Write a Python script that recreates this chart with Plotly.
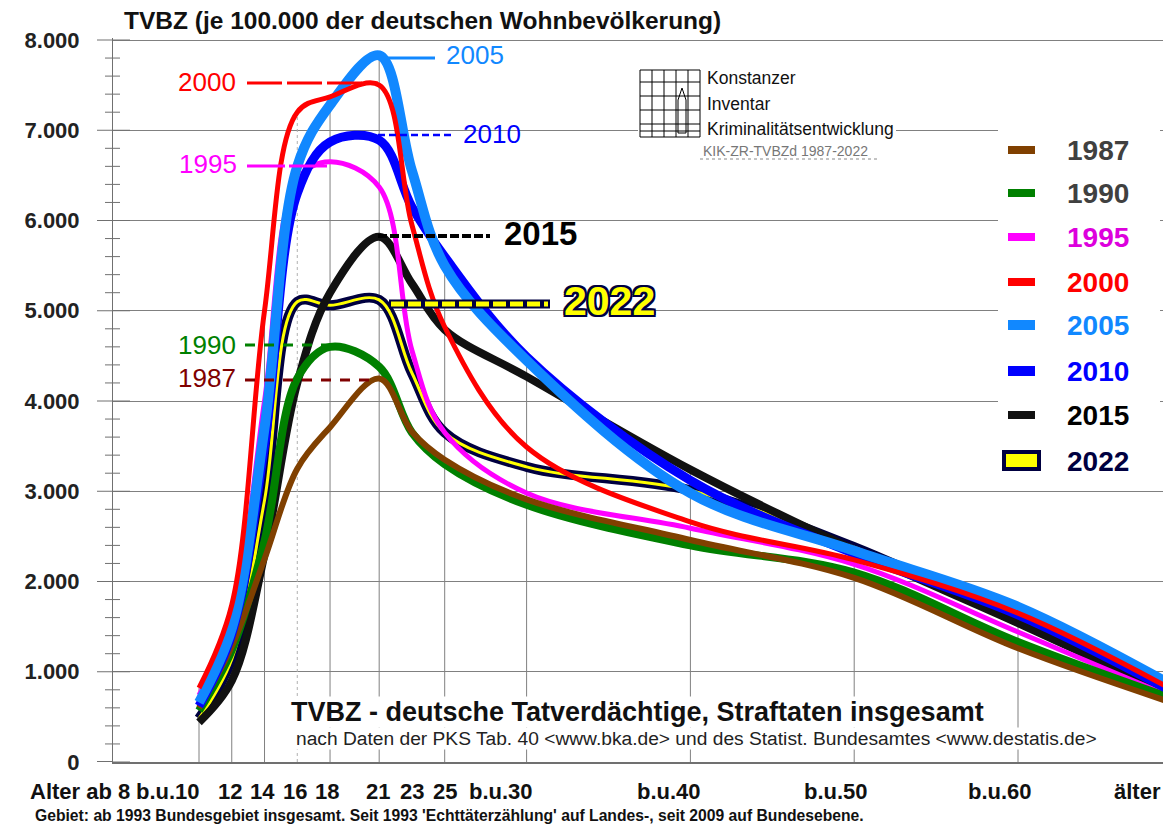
import plotly.graph_objects as go

# ---------------- data ----------------
ages = [10, 12, 14, 16, 18, 21, 23, 25, 30, 40, 50, 60, 70]
age_labels = ["b.u.10", "12", "14", "16", "18", "21", "23", "25",
              "b.u.30", "b.u.40", "b.u.50", "b.u.60", "älter"]
years = ["1987", "1990", "1995", "2000", "2005", "2010", "2015", "2022"]

tvbz_1987 = [600, 1280, 2250, 3250, 3710, 4250, 3660, 3350, 2910, 2460, 2040, 1260, 620]
tvbz_1990 = [570, 1240, 2450, 4250, 4600, 4380, 3650, 3300, 2850, 2400, 2100, 1330, 665]
tvbz_1995 = [740, 1570, 4000, 6450, 6650, 6370, 4560, 3650, 2980, 2590, 2190, 1440, 675]
tvbz_2000 = [820, 1740, 5000, 7200, 7370, 7500, 5950, 4820, 3490, 2660, 2240, 1650, 745]
tvbz_2005 = [660, 1480, 3700, 6600, 7280, 7830, 6550, 5500, 4450, 2980, 2340, 1720, 790]
tvbz_2010 = [620, 1420, 3500, 6300, 6870, 6890, 6150, 5600, 4490, 3120, 2310, 1630, 725]
tvbz_2015 = [440, 900, 2300, 4200, 5200, 5820, 5300, 4790, 4270, 3240, 2350, 1540, 705]
tvbz_2022 = [480, 1140, 2900, 5100, 5060, 5120, 4310, 3650, 3270, 3010, 2380, 1560, 705]

series = {"1987": tvbz_1987, "1990": tvbz_1990, "1995": tvbz_1995, "2000": tvbz_2000,
          "2005": tvbz_2005, "2010": tvbz_2010, "2015": tvbz_2015, "2022": tvbz_2022}

# ---------------- styling ----------------
FONT = "Liberation Sans, Arial, sans-serif"
line_color = {"1987": "#804000", "1990": "#008000", "1995": "#ff00ff", "2000": "#ff0000",
              "2005": "#1188ff", "2010": "#0000ff", "2015": "#111111", "2022": "#000040"}
line_width = {"1987": 6, "1990": 8, "1995": 5, "2000": 5, "2005": 10, "2010": 9, "2015": 8, "2022": 10}
legend_text_color = {"1987": "#404040", "1990": "#404040", "1995": "#dd00dd", "2000": "#ff0000",
                     "2005": "#1188ff", "2010": "#0000ff", "2015": "#000000", "2022": "#000040"}
draw_order = ["2022", "2015", "1995", "1990", "1987", "2010", "2005", "2000"]
YELLOW = "#ffff00"
GRID = "#808080"

# ---------------- geometry helpers (reference pixel coordinates) ----------------
OFF = 8                      # page body margin of the html page
W, H = 1171 - OFF, 826 - OFF
ML, MR, MT, MB = 113 - OFF, 0, 38 - OFF, 64
PW, PH = W - ML - MR, H - MT - MB
PX_PER_YEAR = 16.38
AGE10_PX = 199
Y8000_PX = 40
RIGHT_PX = 1171
x_range = [10 + (113 - AGE10_PX) / PX_PER_YEAR, 10 + (RIGHT_PX - AGE10_PX) / PX_PER_YEAR]
y_range = [0, 8000 * PH / (762 - Y8000_PX)]


def pxx(px):
    return (px - 113) / PW


def pxy(py):
    return (762 - py) / PH


def age_px(a):
    return AGE10_PX + (a - 10) * PX_PER_YEAR


fig = go.Figure()

# ---------------- curves ----------------
for yr in draw_order:
    fig.add_trace(go.Scatter(
        x=ages, y=series[yr], mode="lines", name=yr, showlegend=False,
        line=dict(color=line_color[yr], width=line_width[yr], shape="spline", smoothing=1.0),
        hoverinfo="x+y+name"))
    if yr == "2022":
        fig.add_trace(go.Scatter(
            x=ages, y=series[yr], mode="lines", name="2022", showlegend=False,
            line=dict(color=YELLOW, width=3, shape="spline", smoothing=1.0),
            hoverinfo="skip"))

shapes = []
annotations = []


def text(x, y, s, size, color="#000000", bold=False, xanchor="center", yanchor="middle", **kw):
    f = dict(family=FONT, size=size, color=color, weight="bold" if bold else "normal")
    if "shadow" in kw:
        f["shadow"] = kw.pop("shadow")
    annotations.append(dict(x=pxx(x), y=pxy(y), xref="paper", yref="paper", text=s,
                            showarrow=False, xanchor=xanchor, yanchor=yanchor, font=f, **kw))


def hline(x0, x1, y, color, width=1, dash=None, layer="above"):
    ln = dict(color=color, width=width)
    if dash:
        ln["dash"] = dash
    shapes.append(dict(type="line", xref="paper", yref="paper", x0=pxx(x0), x1=pxx(x1),
                       y0=pxy(y), y1=pxy(y), line=ln, layer=layer))


def vline(x, y0, y1, color, width=1, dash=None, layer="above"):
    ln = dict(color=color, width=width)
    if dash:
        ln["dash"] = dash
    shapes.append(dict(type="line", xref="paper", yref="paper", x0=pxx(x), x1=pxx(x),
                       y0=pxy(y0), y1=pxy(y1), line=ln, layer=layer))


def rect(x0, y0, x1, y1, fill, line_col=None, lw=0, layer="above"):
    shapes.append(dict(type="rect", xref="paper", yref="paper", x0=pxx(x0), x1=pxx(x1),
                       y0=pxy(y1), y1=pxy(y0), fillcolor=fill,
                       line=dict(color=line_col or fill, width=lw), layer=layer))


# ---------------- y-axis crossing ticks ----------------
for v in range(0, 8001, 200):
    major = v % 1000 == 0
    shapes.append(dict(type="line", xref="paper", yref="y",
                       x0=pxx(97 if major else 105), x1=pxx(130 if major else 120),
                       y0=v, y1=v, line=dict(color="#707070", width=1), layer="above"))
# x-axis line extension to the left
shapes.append(dict(type="line", xref="paper", yref="y", x0=pxx(97), x1=0, y0=0, y1=0,
                   line=dict(color="#707070", width=2), layer="above"))

# ---------------- drop lines at the age groups ----------------
for i, a in enumerate(ages):
    if age_labels[i] in ("23", "älter"):
        continue
    top = max(series[yr][i] for yr in years)
    bottom = 0 if a <= 16 else -150
    shapes.append(dict(type="line", xref="x", yref="y", x0=a, x1=a, y0=bottom, y1=top,
                       line=dict(color="#b0b0b0" if a == 16 else GRID, width=1,
                                 dash="dot" if a == 16 else "solid"),
                       layer="between"))

# ---------------- x labels ----------------
label_shift = {"b.u.10": -31, "12": -2, "14": -2, "16": -2, "18": -3, "21": -1, "23": 0, "25": 0,
               "b.u.30": -26, "b.u.40": -21, "b.u.50": -18, "b.u.60": -18, "älter": -44}
for a, lab in zip(ages, age_labels):
    text(age_px(a) + label_shift[lab], 791, lab, 22, "#111111", bold=True)
text(80, 791, "Alter ab 8", 22, "#111111", bold=True)

# ---------------- titles / notes ----------------
text(122, 21, "TVBZ (je 100.000 der deutschen Wohnbevölkerung)", 24.5, "#111111", bold=True,
     xanchor="left")
text(33, 815, "Gebiet: ab 1993 Bundesgebiet insgesamt. Seit 1993 'Echttäterzählung' auf Landes-, "
              "seit 2009 auf Bundesebene.", 15.7, "#111111", bold=True, xanchor="left")
text(290, 712, "TVBZ - deutsche Tatverdächtige, Straftaten insgesamt", 27, "#111111", bold=True,
     xanchor="left", bgcolor="#ffffff", borderpad=0)
text(295, 738, "nach Daten der PKS Tab. 40 &lt;www.bka.de&gt; und des Statist. Bundesamtes "
               "&lt;www.destatis.de&gt;", 19.2, "#222222", xanchor="left", bgcolor="#ffffff", borderpad=0)

# ---------------- peak labels ----------------
hline(385, 435, 58, line_color["2005"], 3)
text(475, 55, "2005", 26, line_color["2005"])
hline(247, 378, 83, "#ff0000", 3, dash="35px,5px")
text(207, 82, "2000", 26, "#ff0000")
hline(378, 455, 135, "#0000ff", 2.5, dash="7px,4px")
text(492, 134, "2010", 26, "#0000ff")
hline(247, 330, 166, "#ff00ff", 3, dash="38px,4px")
text(208, 164, "1995", 26, "#ff00ff")
hline(378, 490, 236, "#000000", 4, dash="9px,3px")
text(540, 233, "2015", 33, "#000000", bold=True)
hline(389, 550, 304, "#000040", 9)
hline(391, 548, 304, YELLOW, 5, dash="13px,4px")
navy = "#000040"
outline = ", ".join(f"{dx}px {dy}px 0 {navy}" for dx in (-2, 0, 2) for dy in (-2, 0, 2) if dx or dy)
text(609, 301, "2022", 41, YELLOW, bold=True, shadow=outline)
hline(245, 330, 345, "#008000", 3, dash="10px,9px")
text(207, 345, "1990", 26, "#008000")
hline(245, 378, 380, "#800000", 3, dash="10px,9px")
text(207, 378, "1987", 26, "#800000")

# ---------------- legend (drawn) ----------------
rect(998, 118, 1160, 482, "#ffffff")
leg_y = [150, 193, 237, 282, 325, 371, 415, 461]
for yr, yy in zip(years, leg_y):
    if yr == "2022":
        rect(1004, yy - 9, 1039, yy + 8, YELLOW, navy, 4)
    else:
        h = 5 if yr in ("2005", "2010") else 4
        rect(1008, yy - h, 1035, yy + h, line_color[yr])
    text(1065, yy, yr, 28, legend_text_color[yr], bold=True, xanchor="left")

# ---------------- logo ----------------
rect(638, 66, 896, 160, "#ffffff")
rect(640, 70, 700, 137, "#ffffff", "#000000", 1)
for gx in (652, 664, 676, 688):
    vline(gx, 70, 137, "#000000", 1)
for gy in (82, 96, 110, 124, 131):
    hline(640, 700, gy, "#000000", 1)
shapes.append(dict(type="path", xref="paper", yref="paper",
                   path=f"M {pxx(678)},{pxy(133)} L {pxx(678)},{pxy(100)} L {pxx(682)},{pxy(88)} "
                        f"L {pxx(686)},{pxy(100)} L {pxx(686)},{pxy(133)} Z",
                   line=dict(color="#000000", width=1), fillcolor="rgba(0,0,0,0)", layer="above"))
text(705, 78, "Konstanzer", 17.5, "#111111", xanchor="left")
text(705, 104, "Inventar", 17.5, "#111111", xanchor="left")
text(705, 129, "Kriminalitätsentwicklung", 17.5, "#111111", xanchor="left")
text(701, 151, "KIK-ZR-TVBZd 1987-2022", 14, "#777777", xanchor="left")
hline(700, 880, 159, "#888888", 1, dash="dot")

fig.update_layout(
    width=W, height=H,
    margin=dict(l=ML, r=MR, t=MT, b=MB, pad=0),
    paper_bgcolor="#ffffff", plot_bgcolor="#ffffff",
    separators=",.",
    font=dict(family=FONT),
    showlegend=False,
    shapes=shapes, annotations=annotations,
    xaxis=dict(range=x_range, showgrid=False, zeroline=False, showticklabels=False, ticks="",
               showline=True, linecolor="#707070", linewidth=2, fixedrange=True),
    yaxis=dict(range=y_range, tick0=0, dtick=1000, tickformat=",d", showgrid=True,
               gridcolor=GRID, gridwidth=1, zeroline=False, showline=True, linecolor="#707070",
               linewidth=1, ticks="outside", ticklen=28, tickcolor="rgba(0,0,0,0)",
               tickfont=dict(family=FONT, size=22, color="#222222", weight="bold"),
               fixedrange=True),
)

fig.write_html("out.html")
